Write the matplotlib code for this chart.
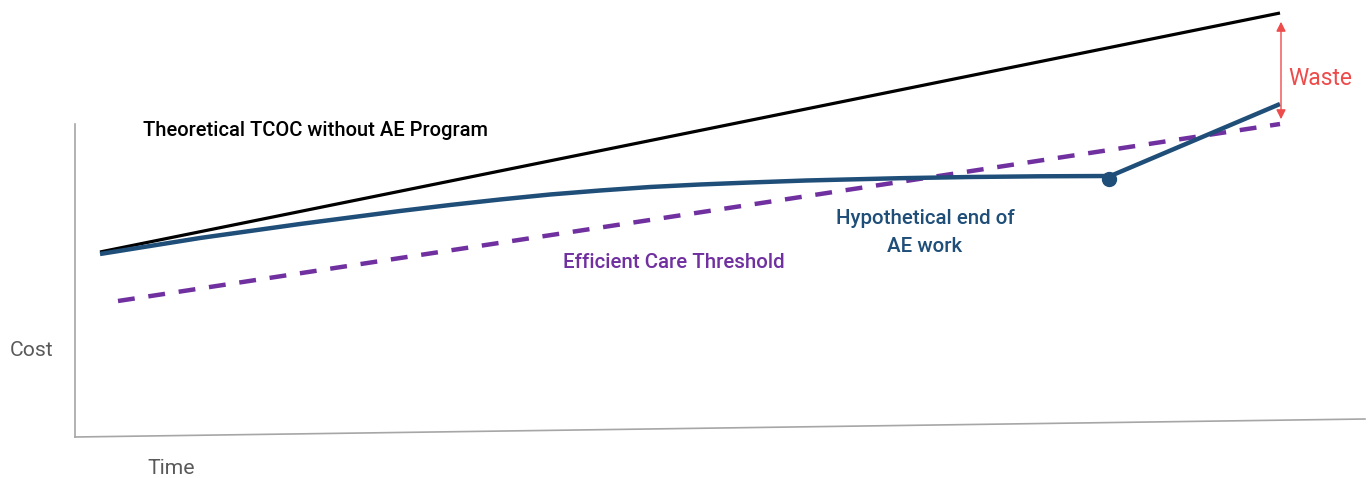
import matplotlib.pyplot as plt
import numpy as np

plt.rcParams['font.family'] = ['Roboto', 'DejaVu Sans']

H = 478  # cost axis runs upwards; cost = H - pixel row

# Theoretical TCOC without AE Program (straight line)
tcoc_time = [100, 1280]
tcoc_cost = [226, 465]

actual_time = [100, 150, 200, 250, 300, 350, 400, 450, 500, 550, 600, 650,
               700, 750, 806, 900, 970, 1040, 1108]
actual_cost = [224, 232, 240, 247, 254, 260.5, 267, 273, 278.5, 283.5, 287.5, 291,
               293.5, 295.5, 297.5, 299.8, 301, 301.7, 302]
after_time = [1108, 1280]
after_cost = [301, 374]
end_time = [1109]
end_cost = [299.5]

# Efficient care threshold (dashed)
thresh_time = [118, 1280]
thresh_cost = [177, 354]

# Axis lines (hand-drawn look)
yaxis_time = [75, 75]
yaxis_cost = [354, 41]
xaxis_time = [75, 1365]
xaxis_cost = [41, 59]

blue = '#1F4E79'
purple = '#7030A0'
red = '#EE4B4B'
grey = '#595959'

fig = plt.figure(figsize=(13.72, 4.78), dpi=100)
ax = fig.add_axes([0, 0, 1, 1])
ax.set_xlim(0, 1372)
ax.set_ylim(0, H)
ax.axis('off')

ax.plot(yaxis_time, yaxis_cost, color='#A6A6A6', lw=1.2)
ax.plot(xaxis_time, xaxis_cost, color='#A6A6A6', lw=1.2)

ax.plot(tcoc_time, tcoc_cost, color='black', lw=2.3, solid_capstyle='butt')
ax.plot(thresh_time, thresh_cost, color=purple, lw=3.2, linestyle=(0, (3.8, 3.1)))
ax.plot(actual_time, actual_cost, color=blue, lw=3.2, solid_capstyle='butt',
        solid_joinstyle='round')
ax.plot(after_time, after_cost, color=blue, lw=3.2, solid_capstyle='butt')
ax.plot(end_time, end_cost, 'o', color=blue, ms=10)

ax.annotate('', xy=(1281, H - 19), xytext=(1281, H - 122),
            arrowprops=dict(arrowstyle='<|-|>', color=red, lw=1, mutation_scale=14))

ax.text(143, H - 130, 'Theoretical TCOC without AE Program', color='black',
        fontsize=14.5, va='center', ha='left', fontweight='medium')
ax.text(563, H - 262, 'Efficient Care Threshold', color=purple,
        fontsize=14.8, va='center', ha='left', fontweight='medium')
ax.text(925, H - 232, 'Hypothetical end of\nAE work', color=blue,
        fontsize=14.8, va='center', ha='center', linespacing=1.6, fontweight='medium')
ax.text(1288, H - 78, 'Waste', color=red, fontsize=16.5, va='center', ha='left')
ax.text(10, H - 351, 'Cost', color=grey, fontsize=15.2, va='center', ha='left')
ax.text(147, H - 468, 'Time', color=grey, fontsize=15.2, va='center', ha='left')

fig.savefig('out.png', dpi=100)
